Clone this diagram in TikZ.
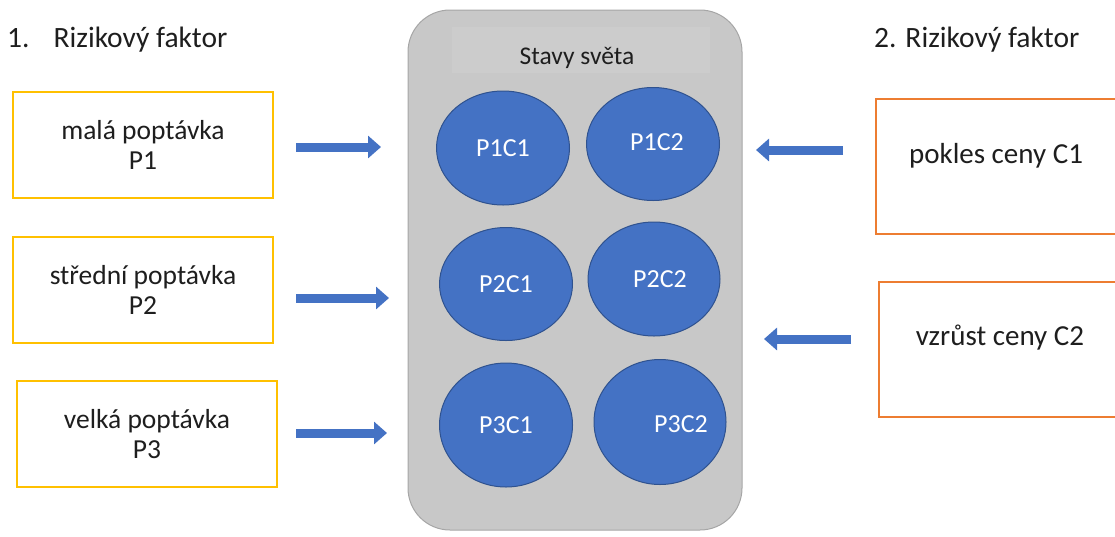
\documentclass[tikz,border=0pt]{standalone}
\usepackage{fontspec}
\setmainfont{Carlito}
\usetikzlibrary{shapes.geometric,arrows.meta}
\definecolor{ylw}{HTML}{FFC000}
\definecolor{org}{HTML}{ED7D31}
\definecolor{blu}{HTML}{4472C4}
\definecolor{bluD}{HTML}{2F528F}
\definecolor{gryF}{HTML}{C8C8C8}
\definecolor{gryB}{HTML}{A6A6A6}
\definecolor{gryL}{HTML}{CCCCCC}
\definecolor{txt}{HTML}{1E1E1E}
\tikzset{
  title/.style={anchor=west,inner sep=0pt,text=txt,font=\fontsize{29.5}{34}\selectfont},
  ybox/.style={draw=ylw,line width=2pt,fill=white,minimum width=260pt,minimum height=106pt,align=center,text=txt,font=\fontsize{27.5}{30}\selectfont},
  obox/.style={draw=org,line width=2pt,fill=white,minimum width=260pt,minimum height=135pt,anchor=west},
  otext/.style={text=txt,inner sep=0pt,font=\fontsize{29}{32}\selectfont},
  container/.style={draw=gryB,line width=1pt,fill=gryF,rounded corners=42pt,minimum width=334pt,minimum height=520pt},
  state/.style={ellipse,draw=bluD,line width=1pt,fill=blu,text=white,inner sep=0pt,font=\fontsize{26}{30}\selectfont},
  ctext/.style={text=white,inner sep=0pt,font=\fontsize{26}{30}\selectfont},
  blk/.style={draw=blu,line width=9pt,-{Triangle[length=13pt,width=22pt]}},
}
\begin{document}
\begin{tikzpicture}[x=1pt,y=-1pt]
\useasboundingbox (0,0) rectangle (1115,536);
\clip (0,0) rectangle (1115,536);
% titles
\node[title] (t1) at (7,40) {1.\hspace{24pt}Rizikový faktor};
\node[title] (t2) at (874,40) {2. Rizikový faktor};
% left boxes
\node[ybox] (b1) at (143,145) {malá poptávka\\P1};
\node[ybox] (b2) at (143,290) {střední poptávka\\P2};
\node[ybox] (b3) at (147,434) {velká poptávka\\P3};
% right boxes
\node[obox] (r1) at (875,166) {};
\node[otext] (l1) at (996,156) {pokles ceny C1};
\node[obox] (r2) at (878,349) {};
\node[otext] (l2) at (1000,338) {vzrůst ceny C2};
% container
\node[container] (box) at (575,270) {};
\node[fill=gryL,minimum width=258pt,minimum height=46pt] (sb) at (581,50) {};
\node[text=txt,inner sep=0pt,font=\fontsize{25.5}{28}\selectfont] (st) at (577,58) {Stavy světa};
% states
\node[state,minimum width=133pt,minimum height=114pt] (c11) at (503,148) {P1C1};
\node[state,minimum width=133pt,minimum height=113pt] (c12) at (653,144) {};
\node[ctext] (t12) at (657,142) {P1C2};
\node[state,minimum width=133pt,minimum height=113pt] (c21) at (506,284) {P2C1};
\node[state,minimum width=132pt,minimum height=114pt] (c22) at (654,279) {};
\node[ctext] (t22) at (660,279) {P2C2};
\node[state,minimum width=133pt,minimum height=124pt] (c31) at (506,425) {P3C1};
\node[state,minimum width=132pt,minimum height=125pt] (c32) at (660,422) {};
\node[ctext] (t32) at (681,424) {P3C2};
% arrows
\coordinate (a1s) at (296,147); \coordinate (a1e) at (381,147);
\coordinate (a2s) at (296,298); \coordinate (a2e) at (389,298);
\coordinate (a3s) at (296,433); \coordinate (a3e) at (387,433);
\coordinate (a4s) at (843,150); \coordinate (a4e) at (756,150);
\coordinate (a5s) at (851,339); \coordinate (a5e) at (764,339);
\draw[blk] (a1s) -- (a1e);
\draw[blk] (a2s) -- (a2e);
\draw[blk] (a3s) -- (a3e);
\draw[blk] (a4s) -- (a4e);
\draw[blk] (a5s) -- (a5e);
\end{tikzpicture}
\end{document}
